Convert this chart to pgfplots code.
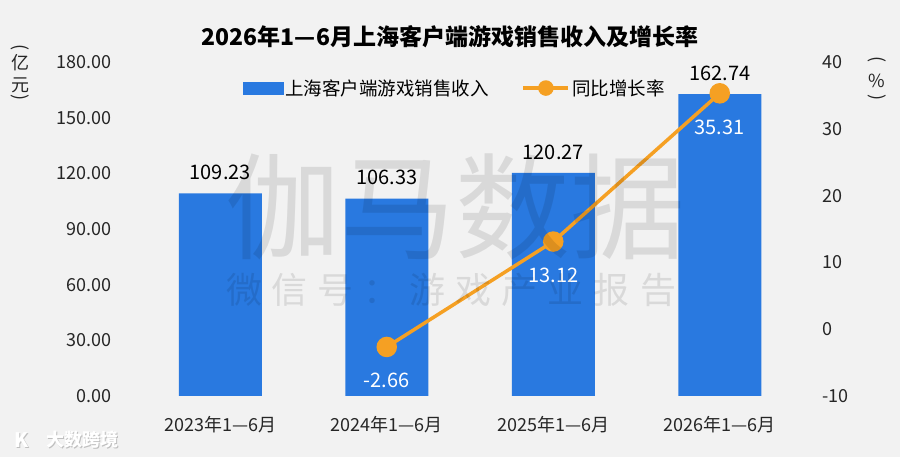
\documentclass[border=0pt]{standalone}
\usepackage{fontspec}
\setmainfont{Noto Sans CJK SC}
\usepackage{pgfplots}
\pgfplotsset{compat=1.18}
\definecolor{barblue}{HTML}{2979E0}
\definecolor{lineorange}{HTML}{F5A023}
\definecolor{bg}{HTML}{F2F2F2}
\newcommand{\tickfont}{\fontsize{18}{20}\selectfont}
\newcommand{\labfont}{\fontsize{20}{22}\selectfont}
\begin{document}
\begin{tikzpicture}[x=1pt,y=1pt]
\fill[bg] (0,0) rectangle (900,457);
\useasboundingbox (0,0) rectangle (900,457);

% bars, left axis
\begin{axis}[
  at={(137pt,61pt)}, anchor=south west,
  scale only axis, width=666pt, height=334pt,
  xmin=-0.5, xmax=3.5, ymin=0, ymax=180,
  axis x line*=bottom, axis y line*=left,
  axis line style={draw=none},
  major tick length=0pt,
  xtick={0,1,2,3},
  xticklabels={2023年1—6月,2024年1—6月,2025年1—6月,2026年1—6月},
  ytick={0,30,60,90,120,150,180},
  tick label style={font=\tickfont, text=black!85},
  yticklabel style={/pgf/number format/.cd, fixed, fixed zerofill, precision=2, assume math mode=true, /tikz/.cd,
    anchor=base east, inner sep=0pt, xshift=-25pt, yshift=-6.6pt},
  xticklabel style={anchor=base, inner sep=0pt, yshift=-35.6pt},
]
\addplot[ybar, bar width=83pt, bar shift=0pt, fill=barblue, draw=none]
  coordinates {(0,109.23) (1,106.33) (2,120.27) (3,162.74)};
\addplot[draw=none, mark=none, nodes near coords, point meta=explicit symbolic,
  nodes near coords style={font=\labfont, text=black, anchor=base, inner sep=0pt, yshift=13.7pt}]
  coordinates {(0,109.23)[109.23] (1,106.33)[106.33] (2,120.27)[120.27] (3,162.74)[162.74]};
\end{axis}

% line, right axis
\begin{axis}[
  at={(137pt,61pt)}, anchor=south west,
  scale only axis, width=666pt, height=334pt,
  xmin=-0.5, xmax=3.5, ymin=-10, ymax=40,
  axis x line=none, axis y line*=right,
  axis line style={draw=none},
  major tick length=0pt,
  ytick={-10,0,10,20,30,40},
  tick label style={font=\tickfont, text=black!85},
  yticklabel style={/pgf/number format/.cd, assume math mode=true, /tikz/.cd,
    anchor=base west, inner sep=0pt, xshift=19pt, yshift=-6.6pt},
  legend columns=2,
  legend cell align=left,
  legend style={draw=none, fill=none, font=\fontsize{18.5}{20}\selectfont,
    at={(0.477,0.922)}, anchor=center,
    /tikz/every even column/.append style={column sep=31pt}},
]
\addlegendimage{legend image code/.code={\fill[barblue] (-3pt,-6pt) rectangle (37pt,6pt);}}
\addlegendentry{上海客户端游戏销售收入}
\addplot[lineorange, line width=3.5pt, mark=*, mark size=8.5pt,
  mark options={fill=lineorange, draw=none},
  nodes near coords, point meta=explicit symbolic,
  nodes near coords style={font=\labfont, text=white, anchor=base, inner sep=0pt, yshift=-41pt},
  legend image code/.code={\draw[lineorange, line width=3.5pt] (0pt,0pt) -- (45pt,0pt);
     \fill[lineorange] (22.5pt,0pt) circle (6pt);}]
  coordinates {(1,-2.66)[-2.66] (2,13.12)[13.12] (3,35.31)[35.31]};
\addlegendentry{同比增长率}
\end{axis}

% title
\node[font=\fontsize{23}{24}\selectfont\bfseries, text=black] at (450,420) {2026年1—6月上海客户端游戏销售收入及增长率};

% axis titles (vertical)
\begin{scope}[every node/.style={font=\fontsize{18}{18}\selectfont, text=black!85, inner sep=0pt}]
\node[rotate=-90] at (20,409) {(};
\node at (20,394) {亿};
\node at (20,372) {元};
\node[rotate=-90] at (20,359) {)};
\node[rotate=-90] at (877,397) {(};
\node at (877,376) {\%};
\node[rotate=-90] at (877,359) {)};
\end{scope}

% watermark
\node[font=\fontsize{115}{115}\selectfont, text=black, text opacity=0.1] at (455,250) {伽马数据};
\node[font=\fontsize{36}{36}\selectfont, text=black, text opacity=0.1] at (451,167)
  {微\hspace{10pt}信\hspace{10pt}号\hspace{10pt}：\hspace{10pt}游\hspace{10pt}戏\hspace{10pt}产\hspace{10pt}业\hspace{10pt}报\hspace{10pt}告};

% corner logo
\node[font=\fontsize{18}{18}\selectfont\bfseries, text=black!25] at (83,16) {大数跨境};
\node[font=\fontsize{18}{18}\selectfont\bfseries, text=white] at (82,17) {大数跨境};
\node[font=\fontsize{20}{20}\selectfont\bfseries, text=black!25] at (23,16) {K};
\node[font=\fontsize{20}{20}\selectfont\bfseries, text=white] at (22,17) {K};
\end{tikzpicture}
\end{document}
